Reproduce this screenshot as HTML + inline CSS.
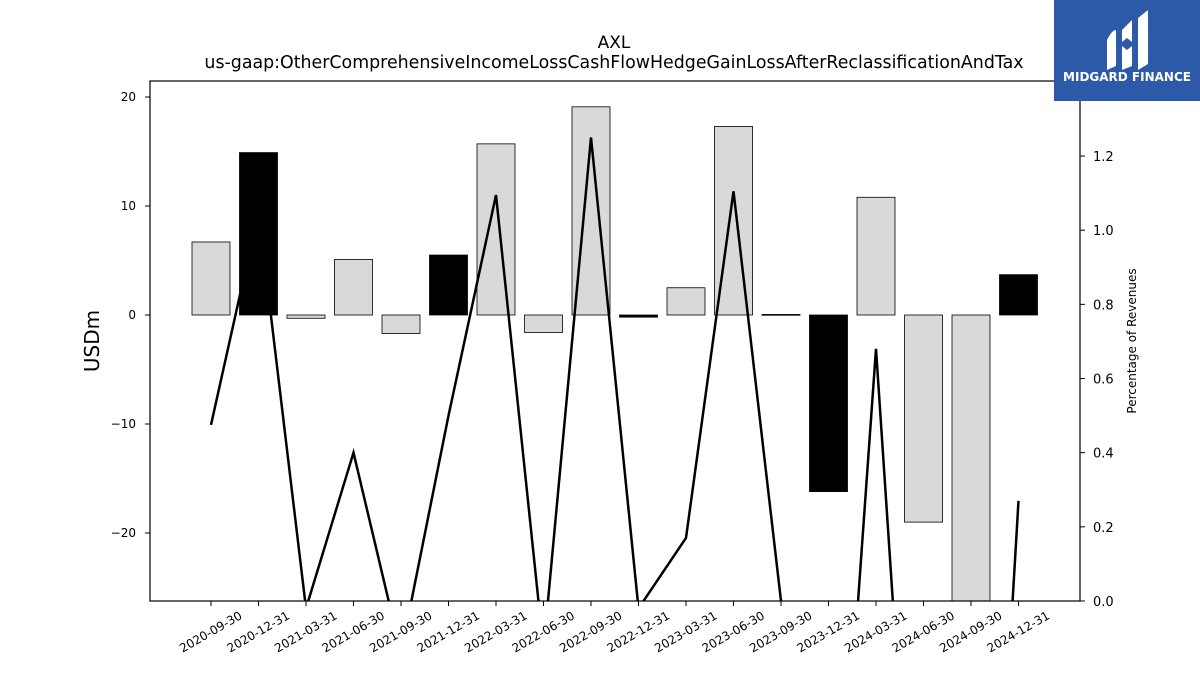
<!DOCTYPE html>
<html><head><meta charset="utf-8"><style>
html,body{margin:0;padding:0;background:#fff;overflow:hidden;width:1200px;height:675px;font-family:"Liberation Sans","DejaVu Sans",sans-serif}
svg{display:block}
svg text{font-family:"DejaVu Sans","Liberation Sans",sans-serif}
</style></head><body>
<svg id="c" width="1200" height="675" viewBox="0 0 1200 675" xmlns="http://www.w3.org/2000/svg">
<defs><clipPath id="plotclip"><rect x="150" y="81" width="930" height="520"/></clipPath></defs>
<text x="614" y="48" font-size="17" text-anchor="middle">AXL</text>
<text x="614" y="68" font-size="17.4" text-anchor="middle">us-gaap:OtherComprehensiveIncomeLossCashFlowHedgeGainLossAfterReclassificationAndTax</text>
<g id="bars" clip-path="url(#plotclip)"></g>
<g id="line" clip-path="url(#plotclip)"></g>
<rect x="150" y="81" width="930" height="520" fill="none" stroke="#000" stroke-width="1.2"/>
<g id="axes"></g>
<text transform="translate(99,341) rotate(-90)" font-size="20" text-anchor="middle">USDm</text>
<text transform="translate(1136,341) rotate(-90)" font-size="12" text-anchor="middle">Percentage of Revenues</text>
<g>
<rect x="1054" y="0" width="146" height="101" fill="#2c5aa9"/>
<path d="M1107 40 Q1112 30 1116 30 L1116 66 L1107 70 Z" fill="#fff"/>
<path d="M1122 30 L1132 20 L1132 42 L1127 38 L1122 42 Z" fill="#fff"/>
<path d="M1122 46 L1127 50 L1132 46 L1132 66 L1122 70 Z" fill="#fff"/>
<path d="M1138 18 L1148 10 L1148 64 L1138 70 Z" fill="#fff"/>
<text x="1127" y="81" font-size="12" font-weight="bold" fill="#fff" text-anchor="middle" font-family="Liberation Sans">MIDGARD FINANCE</text>
</g>
</svg>
<script>
const categories=["2020-09-30","2020-12-31","2021-03-31","2021-06-30","2021-09-30","2021-12-31","2022-03-31","2022-06-30","2022-09-30","2022-12-31","2023-03-31","2023-06-30","2023-09-30","2023-12-31","2024-03-31","2024-06-30","2024-09-30","2024-12-31"];
const barValues=[6.7,14.9,-0.3,5.1,-1.7,5.5,15.7,-1.6,19.1,-0.2,2.5,17.3,0.05,-16.2,10.8,-19.0,-26.5,3.7];
const barHighlight=[0,1,0,0,0,1,0,0,0,1,0,0,0,1,0,0,0,1];
const lineValues=[0.475,1.05,-0.02,0.40,-0.14,0.50,1.095,-0.13,1.25,-0.02,0.17,1.105,0.0,-1.12,0.68,-1.24,-1.9,0.27];
const leftTicks=[-20,-10,0,10,20];
const rightTicks=[0.0,0.2,0.4,0.6,0.8,1.0,1.2];
const NS="http://www.w3.org/2000/svg";
function mk(t,a,p){const e=document.createElementNS(NS,t);for(const k in a)e.setAttribute(k,a[k]);p.appendChild(e);return e;}
const xS=i=>211+i*47.5;
const yL=v=>315-v*10.9;
const yR=v=>601-v*370.8;
const bars=document.getElementById('bars'),line=document.getElementById('line'),axes=document.getElementById('axes');
barValues.forEach((v,i)=>{
 const y0=yL(0),y1=yL(v);
 const r=mk('rect',{x:xS(i)-19,y:Math.min(y0,y1),width:38,height:Math.max(Math.abs(y1-y0),0.8),fill:barHighlight[i]?'#000':'#d9d9d9',stroke:'#000','stroke-width':0.8},bars);
 
 
});
const pl=mk('polyline',{points:lineValues.map((v,i)=>xS(i)+','+yR(v)).join(' '),fill:'none',stroke:'#000','stroke-width':2.5},line);


leftTicks.forEach(t=>{
 const y=yL(t);
 mk('line',{x1:145,x2:150,y1:y,y2:y,stroke:'#000'},axes);
 const tx=mk('text',{x:136,y:y+4,'font-size':12,'text-anchor':'end'},axes);
 tx.textContent=t<0?'\u2212'+Math.abs(t):String(t);
 
 
});
rightTicks.forEach(t=>{
 const y=yR(t);
 mk('line',{x1:1080,x2:1085,y1:y,y2:y,stroke:'#000'},axes);
 const tx=mk('text',{x:1093,y:y+5,'font-size':13},axes);
 tx.textContent=t.toFixed(1);
 
 
});
categories.forEach((c,i)=>{
 const x=xS(i);
 mk('line',{x1:x,x2:x,y1:601,y2:606,stroke:'#000'},axes);
 const tx=mk('text',{transform:`translate(${x+32},${618}) rotate(-30)`,'font-size':12,'text-anchor':'end'},axes);
 tx.textContent=c;
 
 
});
</script>
</body></html>
